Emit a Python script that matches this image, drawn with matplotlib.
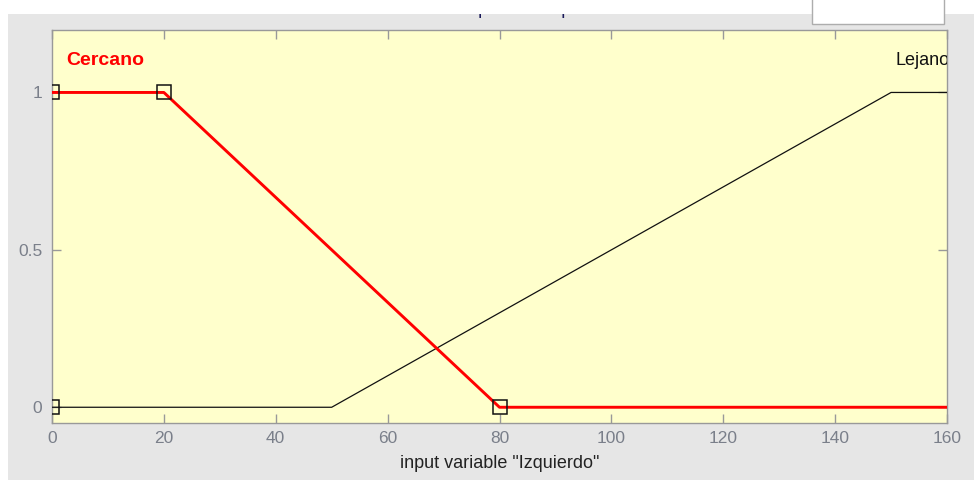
import matplotlib
matplotlib.use("Agg")
import matplotlib.pyplot as plt
from matplotlib.patches import Rectangle

plt.rcParams['font.family'] = ['Liberation Sans', 'DejaVu Sans']

# ---- data ----
cercano_x = [0, 20, 80, 160]
cercano_y = [1, 1, 0, 0]
lejano_x = [0, 50, 150, 160]
lejano_y = [0, 0, 1, 1]
handles_x = [0, 0, 20, 80]
handles_y = [0, 1, 1, 0]
xticks = [0, 20, 40, 60, 80, 100, 120, 140, 160]
yticks = [0, 0.5, 1]
ytick_labels = ['0', '0.5', '1']
xlabel = 'input variable "Izquierdo"'
mf_names = ['Cercano', 'Lejano']
title_text = 'membership function plots'

W, H = 974, 480
fig = plt.figure(figsize=(W / 100, H / 100), dpi=100, facecolor='white')


def fx(px):
    return px / W


def fy(py):
    return 1 - py / H


# gray panel background
fig.patches.append(Rectangle((fx(8), 0), 1 - fx(8), fy(14), transform=fig.transFigure,
                             facecolor='#e6e6e6', edgecolor='none', zorder=-5))

# title fragments (cut off by white strip)
fig.text(fx(389), fy(14), title_text, fontsize=13, color='#1a1a5a', va='baseline', ha='left', zorder=-4)
fig.patches.append(Rectangle((0, fy(14)), 1, 1 - fy(14), transform=fig.transFigure,
                             facecolor='white', edgecolor='none', zorder=5))
fig.patches.append(Rectangle((0, 0), fx(8), 1, transform=fig.transFigure,
                             facecolor='white', edgecolor='none', zorder=5))
# plot points edit box
fig.patches.append(Rectangle((fx(812), fy(24)), fx(944) - fx(812), fy(0) - fy(24) + 0.01,
                             transform=fig.transFigure, facecolor='white',
                             edgecolor='#adadad', linewidth=1, zorder=6))

ax = fig.add_axes([fx(52), fy(423), fx(947) - fx(52), fy(29.5) - fy(423)])
ax.set_facecolor('#ffffcc')
ax.set_xlim(0, 160)
ax.set_ylim(-0.05, 1.2)

ax.plot(lejano_x, lejano_y, color='#111111', linewidth=0.9, zorder=3)
ax.plot(cercano_x, cercano_y, color='#ff0000', linewidth=2.1, zorder=4)
ax.plot(handles_x, handles_y, linestyle='none', marker='s', markersize=9.5,
        markerfacecolor='none', markeredgecolor='#111111', markeredgewidth=1.1, zorder=5)

ax.text(2.5, 1.1, mf_names[0], color='#ff0000', fontsize=14, fontweight='bold',
        ha='left', va='center', clip_on=True)
ax.text(150.8, 1.1, mf_names[1], color='#111111', fontsize=13,
        ha='left', va='center', clip_on=True)

ax.set_xticks(xticks)
ax.set_yticks(yticks)
ax.set_yticklabels(ytick_labels)
for s in ax.spines.values():
    s.set_color('#999999')
    s.set_linewidth(1.0)
ax.tick_params(direction='in', length=6.5, width=1.0, color='#999999',
               top=True, right=True, labelsize=12.5, labelcolor='#7a7f8a')
ax.tick_params(axis='y', pad=7)
ax.tick_params(axis='x', pad=6)
ax.set_xlabel(xlabel, fontsize=13, color='#222222', labelpad=6)

fig.savefig('out.png', dpi=100, facecolor='white')
